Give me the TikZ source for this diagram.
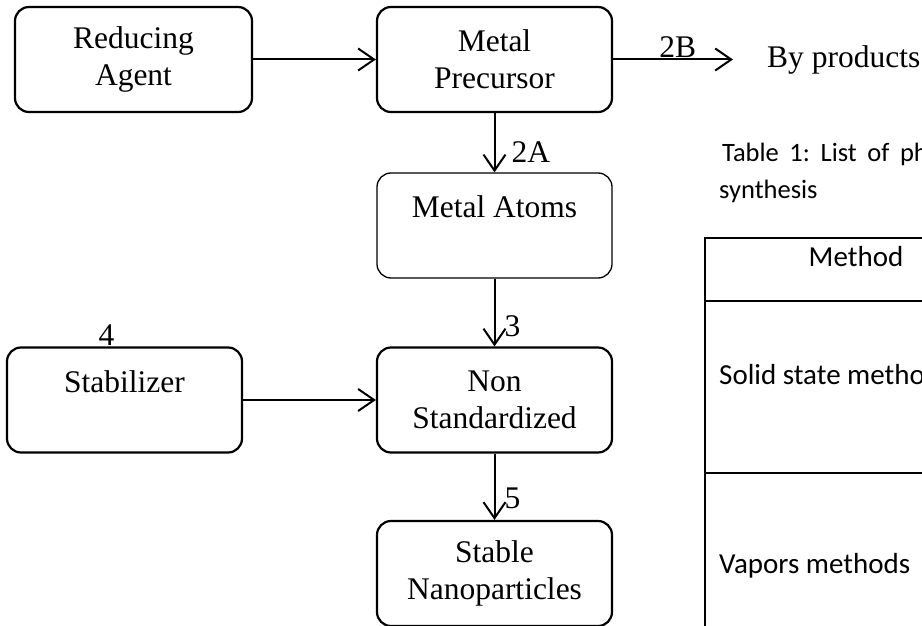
\documentclass[tikz,border=0pt]{standalone}
\usepackage{fontspec}
\setmainfont{Liberation Serif}
\newfontfamily\calibri{Carlito}
\usetikzlibrary{arrows.meta}

\tikzset{
  stagebox/.style={draw, line width=2.2pt, rounded corners=14pt,
    minimum width=235pt, minimum height=105pt, inner sep=0pt,
    align=center, font=\fontsize{31.5}{37}\selectfont},
  flow/.style={line width=2pt, -{Straight Barb[length=16pt,width=22pt]}},
  steplabel/.style={font=\fontsize{31.5}{37}\selectfont, inner sep=1pt},
  tabline/.style={line width=2pt},
  tabtext/.style={font=\calibri\fontsize{29}{35}\selectfont, inner sep=0pt},
  captext/.style={font=\calibri\fontsize{26.5}{30}\selectfont, inner sep=0pt},
}

\begin{document}
\begin{tikzpicture}[x=1pt, y=-1pt]
  \useasboundingbox (0,0) rectangle (922,626);
  \clip (0,0) rectangle (922,626);

  % Process boxes
  \node[stagebox, minimum width=237pt] (reduce) at (133.5, 59.5) {Reducing\\Agent};
  \node[stagebox] (precursor) at (494.5, 59.5) {Metal\\Precursor};
  \node[stagebox, line width=1.3pt] (atoms) at (494.5, 225.5) {Metal Atoms\\\phantom{A}};
  \node[stagebox, label={[steplabel, xshift=-18pt]above:4}] (stab) at (124.5, 400) {Stabilizer\\\phantom{A}};
  \node[stagebox] (nonstd) at (494.5, 400) {Non\\Standardized};
  \node[stagebox] (stable) at (494.5, 573.5) {Stable\\Nanoparticles};
  \node[steplabel, anchor=west, inner sep=0pt] (byprod) at (767, 59.5) {By products};

  % Connections
  \draw[flow] (reduce) -- (precursor);
  \draw[flow, shorten >=34pt] (precursor) -- node[steplabel, pos=0.42, above] {2B} (byprod);
  \draw[flow] (precursor) -- node[steplabel, pos=0.66, right, xshift=15pt] {2A} (atoms);
  \draw[flow] (atoms) -- node[steplabel, pos=0.7, right, xshift=8pt] {3} (nonstd);
  \draw[flow] (stab) -- (nonstd);
  \draw[flow] (nonstd) -- node[steplabel, pos=0.68, right, xshift=8pt] {5} (stable);

  % Table caption
  \node[captext, anchor=base west] (cap1) at (722, 161) {Table\hspace{0.4em}1:\hspace{0.4em}List\hspace{0.4em}of\hspace{0.4em}ph};
  \node[captext, anchor=base west] (cap2) at (719, 198) {synthesis};

  % Table
  \draw[tabline] (922,238) -| (705,626);
  \draw[tabline] (705,301) -- (922,301);
  \draw[tabline] (705,473) -- (922,473);
  \node[tabtext, anchor=base] (method) at (856, 266) {Method};
  \node[tabtext, anchor=base west] (solid) at (719, 384) {Solid state metho};
  \node[tabtext, anchor=base west] (vapor) at (719, 573) {Vapors methods};
\end{tikzpicture}
\end{document}
